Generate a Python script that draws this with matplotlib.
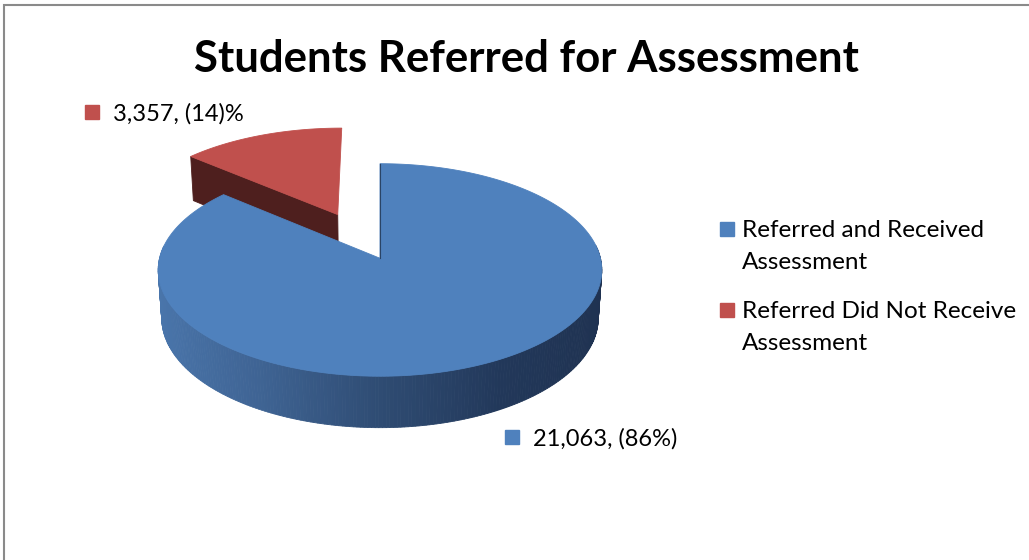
import matplotlib.pyplot as plt
import numpy as np
from matplotlib.colors import LinearSegmentedColormap
from matplotlib.patches import Polygon, Rectangle

plt.rcParams["font.family"] = ["Lato", "DejaVu Sans"]

title = "Students Referred for Assessment"
categories = ["Referred and Received\nAssessment", "Referred Did Not Receive\nAssessment"]
counts = [21063, 3357]
point_labels = ["21,063, (86%)", "3,357, (14)%"]
top_colors = ["#4f81bd", "#c0504d"]
cut_colors = ["#24395a", "#4e1f1e"]
explode = [0.0, 0.48]

# fake 3d camera, in pixel units of the 1029x560 canvas
ELEV = np.radians(30)
DIST = 8.0
HEIGHT = 0.25
SCALE = 217
CX, CY = 380, 306

side_cmap = LinearSegmentedColormap.from_list(
    "side", ["#4a76ac", "#3f6494", "#2f4c73", "#22385a", "#1f3251"]
)


def proj(x, y, z):
    up = z * np.cos(ELEV) + y * np.sin(ELEV)
    depth = y * np.cos(ELEV) - z * np.sin(ELEV)
    s = DIST / (DIST + depth)
    return CX + SCALE * x * s, CY - SCALE * up * s


def draw_slice(ax, t0, t1, off, top_color, cut_color):
    ox, oy = off
    # outer wall, front half only, back pieces first
    ts = np.radians(np.linspace(t0, t1, 361))
    segs = []
    for a, b in zip(ts[:-1], ts[1:]):
        m = 0.5 * (a + b)
        if np.sin(m) > 0.12:
            continue
        pts = [proj(ox + np.cos(a), oy + np.sin(a), HEIGHT),
               proj(ox + np.cos(b), oy + np.sin(b), HEIGHT),
               proj(ox + np.cos(b), oy + np.sin(b), 0),
               proj(ox + np.cos(a), oy + np.sin(a), 0)]
        segs.append((np.sin(m), np.cos(m), pts))
    for _, c, pts in sorted(segs, key=lambda s: -s[0]):
        col = side_cmap((c + 1) / 2)
        ax.add_patch(Polygon(pts, closed=True, fc=col, ec=col, lw=0.6))

    # radial cut faces that look towards the viewer
    for t, sign in ((t0, 1), (t1, -1)):
        r = np.radians(t)
        ny = -sign * np.cos(r)
        if ny < -0.02:
            pts = [proj(ox, oy, HEIGHT),
                   proj(ox + np.cos(r), oy + np.sin(r), HEIGHT),
                   proj(ox + np.cos(r), oy + np.sin(r), 0),
                   proj(ox, oy, 0)]
            ax.add_patch(Polygon(pts, closed=True, fc=cut_color, ec=cut_color, lw=0.6))

    # top face
    pts = [proj(ox, oy, HEIGHT)] + [proj(ox + np.cos(a), oy + np.sin(a), HEIGHT) for a in ts]
    ax.add_patch(Polygon(pts, closed=True, fc=top_color, ec=top_color, lw=0.6))


fig = plt.figure(figsize=(10.29, 5.6), dpi=100)
ax = fig.add_axes([0, 0, 1, 1])
ax.set_xlim(0, 1029)
ax.set_ylim(560, 0)
ax.axis("off")

fracs = np.array(counts) / sum(counts)
ends = 90 - 360 * np.cumsum(fracs)
starts = np.r_[90, ends[:-1]]
order = []
for i in range(len(counts)):
    t0, t1 = ends[i], starts[i]
    mid = np.radians(0.5 * (t0 + t1))
    off = (explode[i] * np.cos(mid), explode[i] * np.sin(mid))
    order.append((np.sin(mid), i, t0, t1, off))
for _, i, t0, t1, off in sorted(order, key=lambda o: -o[0]):
    draw_slice(ax, t0, t1, off, top_colors[i], cut_colors[i])

# thin edge on the blue cut at 12 o'clock
x0, y0 = proj(0, 0, HEIGHT)
x1, y1 = proj(0, 1, HEIGHT)
ax.plot([x0, x1], [y0, y1], color="#2a4466", lw=0.8)

# data labels: (square centre x, baseline y)
label_pos = [(511.5, 446), (91.5, 121)]
for (lx, ly), txt, col in zip(label_pos, point_labels, top_colors):
    ax.plot(lx, ly - 9, marker="s", ms=10.5, color=col, mec=col)
    ax.text(lx + 21.5, ly, txt, ha="left", va="baseline", fontsize=17, color="black")

# legend, drawn by hand so the square sits on the first line
legend_base = [237, 318]
for base, cat, col in zip(legend_base, categories, top_colors):
    ax.plot(726.5, base - 8, marker="s", ms=10.5, color=col, mec=col)
    for k, line in enumerate(cat.split("\n")):
        ax.text(742, base + 32 * k, line, ha="left", va="baseline", fontsize=17.5, color="black")

ax.text(526, 72, title, ha="center", va="baseline", fontsize=31.5, fontweight="bold")

fig.add_artist(Rectangle((4 / 1029, -0.1), 1.2, 1.1 - 5 / 560, transform=fig.transFigure,
                         fill=False, ec="#8a8a8a", lw=1.5))

fig.savefig("out.png", dpi=100)
